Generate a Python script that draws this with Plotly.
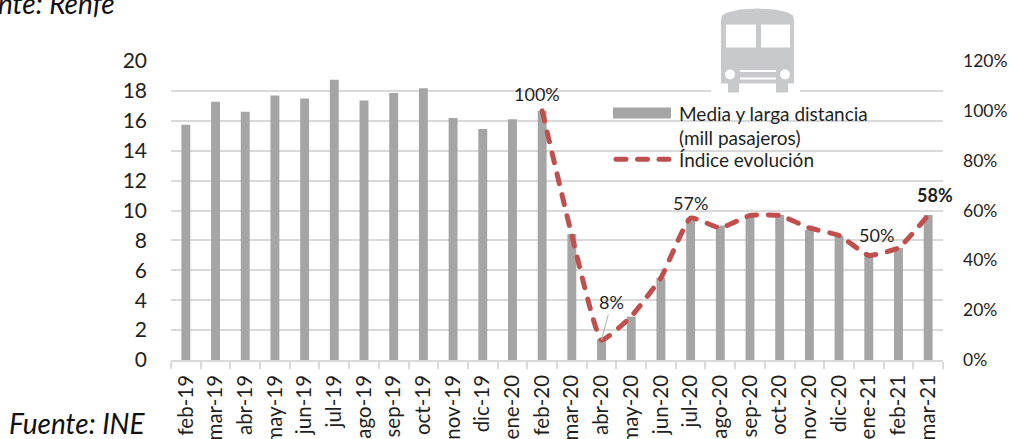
import plotly.graph_objects as go

W, H = 1009, 439
L, R, T, B = 171, 943, 60.5, 360

months = ["feb-19","mar-19","abr-19","may-19","jun-19","jul-19","ago-19","sep-19","oct-19","nov-19","dic-19",
          "ene-20","feb-20","mar-20","abr-20","may-20","jun-20","jul-20","ago-20","sep-20","oct-20","nov-20","dic-20",
          "ene-21","feb-21","mar-21"]
pasajeros = [15.74,17.28,16.6,17.7,17.5,18.75,17.36,17.86,18.17,16.19,15.45,
             16.1,16.65,8.43,1.4,2.9,5.5,9.5,9.0,9.7,9.7,8.7,8.3,7.0,7.5,9.7]
indice_meses = ["feb-20","mar-20","abr-20","may-20","jun-20","jul-20","ago-20","sep-20","oct-20","nov-20","dic-20","ene-21","feb-21","mar-21"]
indice = [100,50,8,17.5,33,57,53,58,58,53,50,42,45,58]

GRID = "#d9d9d9"
BAR = "#a5a5a5"
RED = "#c0504d"
BUS = "#c8c9cb"
TXT = "#1f1f1f"
FONT = "Lato"

def px(x): return x / (R - L) - L / (R - L)
def py(y): return (B - y) / (B - T)

def rect(x0, y0, x1, y1, color):
    return dict(type="rect", xref="paper", yref="paper", x0=px(x0), x1=px(x1), y0=py(y0), y1=py(y1),
                fillcolor=color, line_width=0, layer="above")

def circle(cx, cy, r, color):
    return dict(type="circle", xref="paper", yref="paper", x0=px(cx-r), x1=px(cx+r), y0=py(cy-r), y1=py(cy+r),
                fillcolor=color, line_width=0, layer="above")

def pth(points):
    return "M " + " L ".join(f"{px(a):.5f},{py(b):.5f}" for a, b in points) + " Z"

body = [(721,20),(722,15),(727,12),(740,9),(757,8),(775,9),(788,12),(793,15),(794,20),(794,83),(721,83)]

shapes = [
    rect(711, 0, 800, 95, "white"),
    dict(type="path", xref="paper", yref="paper", path=pth(body), fillcolor=BUS, line_width=0, layer="above"),
    rect(728, 80, 739, 92, BUS), rect(776, 80, 788, 92, BUS),
    rect(726, 24, 756, 47, "white"), rect(761, 24, 790, 47, "white"),
    circle(730, 74, 5, "white"), circle(785, 74, 5, "white"),
    rect(740, 69.5, 776, 71.5, "white"), rect(740, 77, 776, 79, "white"),
    rect(613, 107, 671, 118, BAR),
]

lab = dict(family=FONT, size=18, color=TXT)
annotations = [
    dict(x="feb-20", y=100, yref="y2", text="100%", showarrow=False, yshift=17, xshift=-5, font=lab),
    dict(x="abr-20", y=8, yref="y2", text="8%", showarrow=True, arrowhead=0, arrowcolor="#b0b0b0", arrowwidth=1,
         ax=10, ay=-38, font=lab, standoff=0),
    dict(x="jul-20", y=57, yref="y2", text="57%", showarrow=False, yshift=15, xshift=0, font=lab),
    dict(x="ene-21", y=42, yref="y2", text="50%", showarrow=False, yshift=20, xshift=8, font=lab),
    dict(x="mar-21", y=58, yref="y2", text="<b>58%</b>", showarrow=False, yshift=20, xshift=7, font=lab),
    dict(xref="paper", yref="paper", x=px(147), y=py(423), xanchor="right", yanchor="middle", showarrow=False,
         text="<i>Fuente: INE</i>", font=dict(family=FONT, size=28, color="#111111")),
    dict(xref="paper", yref="paper", x=px(117), y=py(2), xanchor="right", yanchor="middle", showarrow=False,
         text="<i>Fuente: Renfe</i>", font=dict(family=FONT, size=28, color="#111111")),
]

fig = go.Figure()
fig.add_bar(x=months, y=pasajeros, name="Media y larga distancia<br>(mill pasajeros)", marker_color=BAR, marker_line_width=0,
            showlegend=True, legend="legend")
fig.add_scatter(x=indice_meses, y=indice, name="Índice evolución", yaxis="y2", mode="lines", legend="legend2", showlegend=True,
                line=dict(color=RED, width=5, dash="10px,11.5px", shape="spline", smoothing=0.4))

legend_font = dict(family=FONT, size=19, color=TXT)
fig.update_layout(
    width=W, height=H, margin=dict(l=L, r=W-R, t=T, b=H-B, pad=0, autoexpand=False),
    paper_bgcolor="white", plot_bgcolor="white", bargap=0.7, showlegend=True,
    font=dict(family=FONT, color=TXT), shapes=shapes, annotations=annotations,
    legend=dict(x=px(611), y=py(94), xanchor="left", yanchor="top", bgcolor="rgba(0,0,0,0)", itemwidth=58,
                font=legend_font, itemclick=False),
    legend2=dict(x=px(611), y=py(140), xanchor="left", yanchor="top", bgcolor="rgba(0,0,0,0)", itemwidth=58,
                 font=legend_font, itemclick=False),
    xaxis=dict(categoryorder="array", categoryarray=months, tickangle=-90, tickson="boundaries", ticks="outside",
               ticklen=7, tickcolor=GRID, tickwidth=1.5, showline=True, linecolor=GRID, linewidth=1.5, showgrid=False,
               tickfont=dict(family=FONT, size=20.5, color=TXT), ticklabelstandoff=5, range=[-0.5, 25.5]),
    yaxis=dict(range=[0, 20], dtick=2, gridcolor=GRID, gridwidth=1.5, zeroline=False, showline=False,
               tickfont=dict(family=FONT, size=21, color=TXT), ticklabelstandoff=23),
    yaxis2=dict(range=[0, 120], dtick=20, overlaying="y", side="right", showgrid=False, zeroline=False, showline=False,
                ticksuffix="%", tickfont=dict(family=FONT, size=17.5, color=TXT), ticklabelstandoff=19),
)

post = """document.body.style.margin='0';document.body.style.overflow='hidden';
var s=document.createElement('style');s.textContent='.js-line{stroke-linecap:round} .legendpoints path, .legendbar path{display:none !important}';document.head.appendChild(s);"""
fig.write_html("out.html", post_script=post, config={"displayModeBar": False})
